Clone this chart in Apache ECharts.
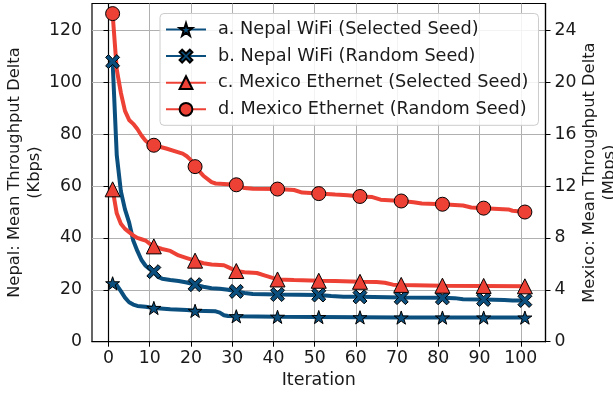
<!DOCTYPE html>
<html>
<head>
<meta charset="utf-8">
<script src="https://cdn.jsdelivr.net/npm/echarts@6/dist/echarts.min.js"></script>
<style>
html,body{margin:0;padding:0;background:#fff;}
#chart{width:613px;height:395px;}
</style>
</head>
<body>
<div id="chart"></div>
<script>
// ---- data ----
const xTicks = [0,10,20,30,40,50,60,70,80,90,100];
const leftTicks = [0,20,40,60,80,100,120];
const rightTicks = [0,4,8,12,16,20,24];
const markerIters = [1,11,21,31,41,51,61,71,81,91,101];

const seriesNames = [
  'a. Nepal WiFi (Selected Seed)',
  'b. Nepal WiFi (Random Seed)',
  'c. Mexico Ethernet (Selected Seed)',
  'd. Mexico Ethernet (Random Seed)'
];

// a. Nepal WiFi (Selected Seed), Kbps
const aIter = [1,2,3,4,5,6,7,9,11,15,19,21,26,27,28,29,31,41,51,61,71,81,91,101];
const aVals = [22.5,21.8,19.5,17.0,15.2,14.3,13.8,13.5,13.0,12.5,12.2,11.9,11.7,11.2,10.2,9.9,9.8,9.6,9.5,9.4,9.3,9.3,9.3,9.3];

// b. Nepal WiFi (Random Seed), Kbps
const bIter = [1,2,3,4,5,6,7,8,9,10,11,12,13,15,17,19,21,23,25,27,29,31,33,35,41,51,54,57,61,71,81,84,86,91,96,98,101];
const bVals = [108,72,58,51,46,39,35,31.5,29.3,28,27,25,24.3,23.8,23.4,22.8,22.0,21.2,20.6,20.4,20.0,19.4,18.8,18.4,18.2,18.0,17.6,17.35,17.3,17.0,16.9,16.8,16.4,16.3,16.1,15.9,15.9];

// c. Mexico Ethernet (Selected Seed), Mbps
const cIter = [1,2,3,4,5,6,7,8,9,10,11,13,15,17,19,21,23,25,28,29,31,33,36,38,41,45,51,55,61,65,67,69,71,81,91,101];
const cVals = [11.75,9.9,9.1,8.7,8.45,8.2,8.0,7.9,7.8,7.55,7.35,7.15,7.0,6.65,6.45,6.25,6.05,5.95,5.9,5.75,5.45,5.35,5.3,5.1,4.8,4.75,4.7,4.68,4.62,4.6,4.55,4.4,4.38,4.32,4.3,4.27];

// d. Mexico Ethernet (Random Seed), Mbps
const dIter = [1,2,3,4,5,6,7,8,9,10,11,14,17,18,19,20,21,23,25,26,29,31,33,35,41,45,47,51,55,58,61,64,66,71,74,76,81,86,88,91,97,98,101];
const dVals = [25.3,21.0,19.2,17.8,17.1,16.8,16.4,15.9,15.5,15.25,15.15,14.9,14.6,14.5,14.3,14.0,13.5,12.8,12.3,12.2,12.15,12.1,11.85,11.8,11.77,11.7,11.5,11.42,11.35,11.3,11.2,11.15,10.95,10.85,10.75,10.65,10.6,10.5,10.35,10.3,10.2,10.1,10.0];

// ---- styling ----
const BLUE = '#0b4f7e';
const RED = '#ee4136';
const STAR = 'path://M50,0 L61.8,35.4 L99,35.4 L69,57.3 L80.2,92.7 L50,70.8 L19.8,92.7 L31,57.3 L1,35.4 L38.2,35.4 Z';
const XMARK = 'path://M20,0 L50,30 L80,0 L100,20 L70,50 L100,80 L80,100 L50,70 L20,100 L0,80 L30,50 L0,20 Z';
const FONT = 'DejaVu Sans';
const FS_LEGEND = 17.7;
const FS_TICK = 17.3;
const FS_NAME = 16.3;

function build(iters, vals) {
  return iters.map((x, i) => {
    const item = { value: [x, vals[i]] };
    if (!markerIters.includes(x)) item.symbol = 'none';
    return item;
  });
}

function makeSeries(name, iters, vals, color, symbol, size, yIdx) {
  return {
    name: name,
    type: 'line',
    yAxisIndex: yIdx,
    data: build(iters, vals),
    symbol: symbol,
    symbolSize: size,
    symbolKeepAspect: true,
    showSymbol: true,
    lineStyle: { color: color, width: 4 },
    itemStyle: { color: color, borderColor: '#000', borderWidth: 1 },
    emphasis: { disabled: true },
    animation: false
  };
}

const chart = echarts.init(document.getElementById('chart'), null, { renderer: 'canvas' });

const tickText = { fontFamily: FONT, fontSize: FS_TICK, color: '#1a1a1a' };
const nameText = { fontFamily: FONT, fontSize: FS_NAME, color: '#1a1a1a', lineHeight: 20 };

chart.setOption({
  animation: false,
  backgroundColor: '#fff',
  textStyle: { fontFamily: FONT },
  grid: {
    left: 92, right: 67.5, top: 3.5, bottom: 53.3,
    containLabel: false, outerBoundsMode: 'none',
    show: true, borderColor: '#000', borderWidth: 1.2, backgroundColor: 'transparent'
  },
  legend: {
    orient: 'vertical',
    left: 160, top: 13.5,
    itemWidth: 40, itemHeight: 16, itemGap: 8.6,
    padding: [7, 10, 7, 5],
    backgroundColor: 'rgba(255,255,255,0.85)',
    borderColor: '#cccccc', borderWidth: 1, borderRadius: 4,
    textStyle: { fontFamily: FONT, fontSize: FS_LEGEND, color: '#1a1a1a', padding: [0, 0, 0, 7], lineHeight: 17 },
    data: seriesNames
  },
  xAxis: {
    type: 'value', min: -4, max: 106,
    name: 'Iteration', nameLocation: 'middle', nameGap: 30, nameMoveOverlap: false,
    nameTextStyle: { fontFamily: FONT, fontSize: 17.5, color: '#1a1a1a' },
    axisLine: { show: true, lineStyle: { color: '#000', width: 1.2 } },
    axisTick: { show: true, length: 5, customValues: xTicks, lineStyle: { color: '#000' } },
    axisLabel: { customValues: xTicks, margin: 8, ...tickText },
    splitLine: { show: true, lineStyle: { color: '#b0b0b0', width: 1 } }
  },
  yAxis: [
    {
      type: 'value', min: 0, max: 130.4, position: 'left',
      name: 'Nepal: Mean Throughput Delta\n(Kbps)', nameLocation: 'middle', nameGap: 47, nameMoveOverlap: false,
      nameTextStyle: nameText,
      axisLine: { show: true, lineStyle: { color: '#000', width: 1.2 } },
      axisTick: { show: true, length: 5, customValues: leftTicks, lineStyle: { color: '#000' } },
      axisLabel: { customValues: leftTicks, margin: 10, ...tickText },
      splitLine: { show: true, lineStyle: { color: '#b0b0b0', width: 1 } }
    },
    {
      type: 'value', min: 0, max: 26.08, position: 'right',
      name: 'Mexico: Mean Throughput Delta\n(Mbps)', nameLocation: 'middle', nameGap: 34, nameRotate: 90, nameMoveOverlap: false,
      nameTextStyle: nameText,
      axisLine: { show: true, lineStyle: { color: '#000', width: 1.2 } },
      axisTick: { show: true, length: 5, customValues: rightTicks, lineStyle: { color: '#000' } },
      axisLabel: { customValues: rightTicks, margin: 9, ...tickText },
      splitLine: { show: false }
    }
  ],
  series: [
    makeSeries(seriesNames[0], aIter, aVals, BLUE, STAR, 14, 0),
    makeSeries(seriesNames[1], bIter, bVals, BLUE, XMARK, 14, 0),
    makeSeries(seriesNames[2], cIter, cVals, RED, 'triangle', 15, 1),
    makeSeries(seriesNames[3], dIter, dVals, RED, 'circle', 14, 1)
  ]
});
</script>
</body>
</html>
